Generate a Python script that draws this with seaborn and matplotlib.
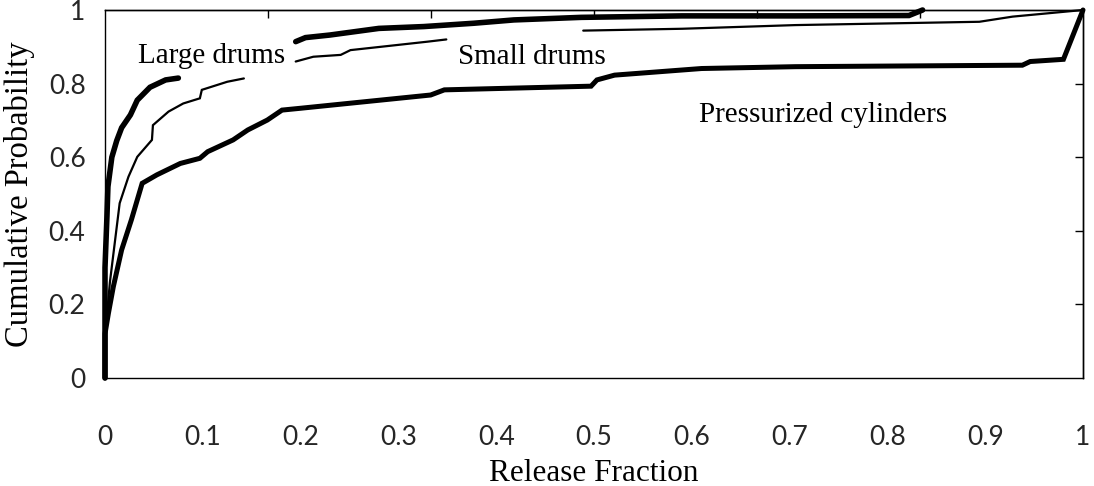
import numpy as np
import pandas as pd
import matplotlib
matplotlib.use("Agg")
import matplotlib.pyplot as plt
import seaborn as sns

# ---- data ----
large_a_x = [0.0, 0.0, 0.002, 0.003, 0.007, 0.012, 0.017, 0.026, 0.033, 0.046, 0.062, 0.075]
large_a_y = [0.0, 0.30, 0.44, 0.52, 0.60, 0.645, 0.68, 0.715, 0.755, 0.79, 0.81, 0.815]
large_b_x = [0.195, 0.205, 0.23, 0.28, 0.326, 0.377, 0.418, 0.487, 0.59, 0.706, 0.822, 0.836]
large_b_y = [0.914, 0.925, 0.932, 0.95, 0.955, 0.964, 0.973, 0.98, 0.984, 0.984, 0.985, 1.0]

small_a_x = [0.0, 0.0, 0.002, 0.005, 0.015, 0.024, 0.033, 0.048, 0.049, 0.065, 0.08, 0.097, 0.099, 0.125, 0.142]
small_a_y = [0.0, 0.10, 0.17, 0.26, 0.475, 0.547, 0.601, 0.647, 0.687, 0.724, 0.746, 0.76, 0.783, 0.805, 0.814]
small_b_x = [0.195, 0.213, 0.241, 0.251, 0.282, 0.33, 0.349]
small_b_y = [0.86, 0.873, 0.878, 0.891, 0.90, 0.914, 0.92]
small_c_x = [0.489, 0.59, 0.706, 0.894, 0.928, 1.0]
small_c_y = [0.944, 0.949, 0.959, 0.968, 0.982, 1.0]

press_x = [0.0, 0.0, 0.0035, 0.0085, 0.017, 0.027, 0.033, 0.038, 0.053, 0.077, 0.097, 0.105,
           0.131, 0.146, 0.166, 0.181, 0.20, 0.333, 0.347, 0.497, 0.503, 0.521, 0.61, 0.706,
           0.938, 0.946, 0.98, 1.0]
press_y = [0.0, 0.12, 0.176, 0.248, 0.348, 0.43, 0.484, 0.529, 0.552, 0.583, 0.597, 0.615,
           0.647, 0.674, 0.701, 0.728, 0.733, 0.769, 0.783, 0.793, 0.81, 0.823, 0.841, 0.846,
           0.85, 0.86, 0.866, 1.0]

x_ticks = [0, 0.1, 0.2, 0.3, 0.4, 0.5, 0.6, 0.7, 0.8, 0.9, 1]
x_ticklabels = ["0", "0.1", "0.2", "0.3", "0.4", "0.5", "0.6", "0.7", "0.8", "0.9", "1"]
y_ticks = [0, 0.2, 0.4, 0.6, 0.8, 1]
y_ticklabels = ["0", "0.2", "0.4", "0.6", "0.8", "1"]

labels = ["Large drums", "Small drums", "Pressurized cylinders"]

# ---- figure ----
sns.set_theme(style="white")
plt.rcParams["font.family"] = ["DejaVu Sans"]

fig = plt.figure(figsize=(10.94, 4.86), dpi=100)
ax = fig.add_axes([105 / 1094, (486 - 378) / 486, (1083 - 105) / 1094, (378 - 10) / 486])

segments = [
    (large_a_x, large_a_y, 4.0),
    (large_b_x, large_b_y, 4.0),
    (small_a_x, small_a_y, 1.6),
    (small_b_x, small_b_y, 1.6),
    (small_c_x, small_c_y, 1.6),
    (press_x, press_y, 3.6),
]
for xs, ys, lw in segments:
    sns.lineplot(x=xs, y=ys, ax=ax, sort=False, estimator=None, color="black",
                 linewidth=lw, clip_on=False, solid_joinstyle="miter")

ax.set_xlim(0, 1)
ax.set_ylim(0, 1)

tick_font = dict(family="Lato", size=19)
ax.set_xticks(x_ticks)
ax.set_xticklabels(x_ticklabels, fontdict=tick_font)
ax.set_yticks(y_ticks)
ax.set_yticklabels(y_ticklabels, fontdict=tick_font)
ax.tick_params(axis="x", direction="in", length=8, width=1, color="black", pad=34)
ax.tick_params(axis="y", direction="in", length=6, width=1, color="black", pad=14)

top = ax.secondary_xaxis("top")
top.set_xticks([1 / 6, 2 / 6, 3 / 6, 4 / 6, 5 / 6])
top.set_xticklabels([])
top.tick_params(direction="in", length=6, width=1, color="black")
right = ax.secondary_yaxis("right")
right.set_yticks([0.2, 0.4, 0.6, 0.8])
right.set_yticklabels([])
right.tick_params(direction="in", length=6, width=1, color="black")
for s in list(ax.spines.values()) + list(top.spines.values()) + list(right.spines.values()):
    s.set_color("black")
    s.set_linewidth(1.0)

serif = dict(family="Liberation Serif", size=21, color="black")
ax.set_xlabel("Release Fraction", fontdict=dict(serif, size=22.5), labelpad=6)
ax.set_ylabel("Cumulative Probability", fontdict=dict(serif, size=23.5), labelpad=10)

ax.text(0.034, 0.856, labels[0], fontdict=serif, ha="left", va="baseline")
ax.text(0.361, 0.853, labels[1], fontdict=serif, ha="left", va="baseline")
ax.text(0.607, 0.696, labels[2], fontdict=serif, ha="left", va="baseline")

fig.savefig("out.png", dpi=100, facecolor="white")
